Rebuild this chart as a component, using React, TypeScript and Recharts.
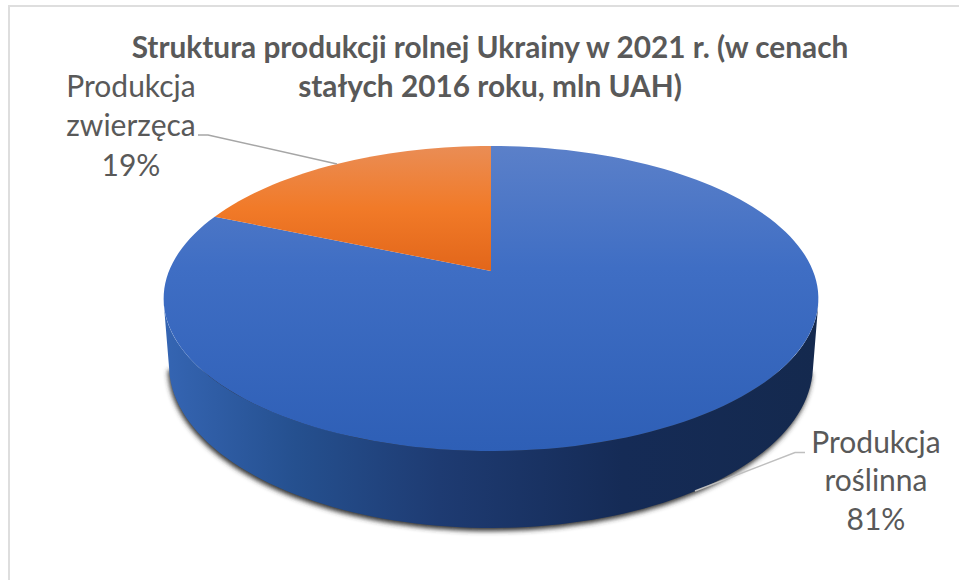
import { PieChart, Pie, Cell } from "recharts";

const TITLE_LINES = ["Struktura produkcji rolnej Ukrainy w 2021 r. (w cenach", "stałych 2016 roku, mln UAH)"];
const CATEGORIES = ["Produkcja roślinna", "Produkcja zwierzęca"];
// labels round to 81% / 19%, the slice edge reads a bit under 19
const VALUES = [81.45, 18.55];
const LABEL_LINES = [["Produkcja", "roślinna", "81%"], ["Produkcja", "zwierzęca", "19%"]];

const pieData = CATEGORIES.map((name, i) => ({ name, value: VALUES[i] }));

// fake perspective of the tilted disc
const TILT = 0.3065;
const PERSP = 0.1803;
const RAD = Math.PI / 180;

function topPoint(cx: number, cy: number, r: number, deg: number) {
    const u = Math.cos(deg * RAD);
    const v = Math.sin(deg * RAD);
    const d = 1 + PERSP * v;
    return [cx + (r * u) / d, (cy - r * TILT * v) / d];
}

function sampleAngles(start: number, end: number) {
    const n = Math.max(2, Math.ceil(Math.abs(end - start) / 2));
    const out: number[] = [];
    for (let i = 0; i <= n; i++) out.push(start + ((end - start) * i) / n);
    return out;
}

function TopSector(props: any) {
    const { cx, cy, outerRadius, startAngle, endAngle, fill } = props;
    const pts = sampleAngles(startAngle, endAngle).map((a) => topPoint(cx, cy, outerRadius, a));
    const d = `M${cx},${cy} ` + pts.map((p) => `L${p[0]},${p[1]}`).join(" ") + " Z";
    return <path d={d} fill={fill} />;
}

// side wall, only the front half of the disc can be seen
function wallEdges(cx: number, r: number, startAngle: number, endAngle: number) {
    const angles = sampleAngles(startAngle, endAngle).filter((a) => a <= 0 && a >= -180);
    const upper = angles.map((a) => [cx + r * 1.017 * Math.cos(a * RAD), 298.5 - 152.5 * Math.sin(a * RAD)]);
    const lower = angles.map((a) => [cx + r * Math.cos(a * RAD), 365 - 163 * Math.sin(a * RAD)]);
    return { upper, lower };
}

const toPath = (pts: number[][]) => "M" + pts.map((p) => `${p[0]},${p[1]}`).join(" L") + " Z";

function WallSector(props: any) {
    const { cx, outerRadius, startAngle, endAngle } = props;
    const { upper, lower } = wallEdges(cx, outerRadius, startAngle, endAngle);
    if (!lower.length) return <g />;
    return (
        <g>
            <path d={toPath(lower)} fill="#333333" filter="url(#wallShadow)" transform="translate(-1 3)" />
            <path d={toPath([...upper, ...[...lower].reverse()])} fill="url(#wallGrad)" />
        </g>
    );
}

const LABEL_CENTERS = [876, 131];
const LABEL_BASELINES = [[453, 491, 530], [97, 136, 176]];
const LEADERS = [
    "M805,452.5 L795,452.5 L695,491",
    "M198,135 L208,135 L337,164",
];

function SliceLabel(props: any) {
    const { index } = props;
    return (
        <g>
            <path d={LEADERS[index]} fill="none" stroke={index === 0 ? "#bfbfbf" : "#a6a6a6"} strokeWidth={1.5} />
            {LABEL_LINES[index].map((line, i) => (
                <text
                    key={line}
                    x={LABEL_CENTERS[index]}
                    y={LABEL_BASELINES[index][i]}
                    textAnchor="middle"
                    fontFamily="Lato"
                    fontSize={30}
                    fill="#595959"
                >
                    {line}
                </text>
            ))}
        </g>
    );
}

export default function App() {
    return (
        <div style={{ position: "absolute", left: 0, top: 0, width: 959, height: 580, background: "#fff" }}>
            {/* only the top and left frame edges are inside the crop */}
            <div style={{ position: "absolute", left: 8, top: 5, width: 951, height: 575, borderTop: "2px solid #dedede", borderLeft: "2px solid #dedede", boxSizing: "border-box" }} />
            <PieChart
                width={959}
                height={580}
                margin={{ top: 0, right: 0, bottom: 0, left: 0 }}
                style={{ position: "absolute", left: 0, top: 0 }}
            >
                <defs>
                    <linearGradient id="blueGrad" gradientUnits="userSpaceOnUse" x1="0" y1="146" x2="0" y2="451">
                        <stop offset="0" stopColor="#5b80c9" />
                        <stop offset="0.4" stopColor="#3f6ec4" />
                        <stop offset="1" stopColor="#2e5fb6" />
                    </linearGradient>
                    <linearGradient id="orangeGrad" gradientUnits="userSpaceOnUse" x1="0" y1="146" x2="0" y2="271">
                        <stop offset="0" stopColor="#ea8d55" />
                        <stop offset="0.5" stopColor="#f17a28" />
                        <stop offset="1" stopColor="#e2661a" />
                    </linearGradient>
                    <linearGradient id="wallGrad" gradientUnits="userSpaceOnUse" x1="164" y1="0" x2="819" y2="0">
                        <stop offset="0" stopColor="#3565b3" />
                        <stop offset="0.2" stopColor="#25508f" />
                        <stop offset="0.42" stopColor="#1e3b72" />
                        <stop offset="0.7" stopColor="#152b56" />
                        <stop offset="1" stopColor="#14294e" />
                    </linearGradient>
                    <filter id="wallShadow" x="-5%" y="-10%" width="110%" height="120%">
                        <feGaussianBlur stdDeviation="2.5" />
                    </filter>
                </defs>
                <Pie
                    data={pieData}
                    dataKey="value"
                    cx={491}
                    cy={271}
                    outerRadius={322}
                    startAngle={90}
                    endAngle={-270}
                    stroke="none"
                    isAnimationActive={false}
                    shape={WallSector}
                    rootTabIndex={-1}
                />
                <Pie
                    data={pieData}
                    dataKey="value"
                    cx={491}
                    cy={271}
                    outerRadius={322}
                    startAngle={90}
                    endAngle={-270}
                    stroke="none"
                    isAnimationActive={false}
                    shape={TopSector}
                    label={SliceLabel}
                    labelLine={false}
                    rootTabIndex={-1}
                >
                    <Cell fill="url(#blueGrad)" />
                    <Cell fill="url(#orangeGrad)" />
                </Pie>
                <text textAnchor="middle" fontFamily="Lato" fontWeight={700} fontSize={29.8} fill="#595959">
                    <tspan x={490} y={58}>{TITLE_LINES[0]}</tspan>
                    <tspan x={490} y={97}>{TITLE_LINES[1]}</tspan>
                </text>
            </PieChart>
        </div>
    );
}
